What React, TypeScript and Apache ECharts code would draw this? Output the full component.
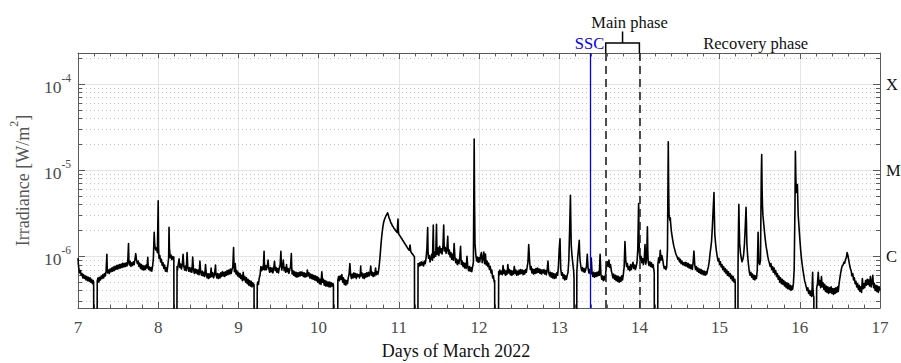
import React, { useEffect, useRef } from 'react';
import * as echarts from 'echarts';

const FONT = '"Liberation Serif", "Times New Roman", serif';

// axis ranges
const xMin = 7;
const xMax = 17;
const yMin = 2.5e-7;
const yMax = 2.3e-4;

// flare class reference levels (right-hand labels)
const classLevels = [1e-4, 1e-5, 1e-6];
const classLabels = ['X', 'M', 'C'];
const mClassThreshold = 1e-5;

// minor log grid levels
const minorLevels = [
  3e-7, 4e-7, 5e-7, 6e-7, 7e-7, 8e-7, 9e-7,
  2e-6, 3e-6, 4e-6, 5e-6, 6e-6, 7e-6, 8e-6, 9e-6,
  2e-5, 3e-5, 4e-5, 5e-5, 6e-5, 7e-5, 8e-5, 9e-5,
  2e-4,
];

// storm phases (days of March 2022)
const sscDay = 13.39;
const mainPhaseStart = 13.58;
const mainPhaseEnd = 14.0;
const recoveryLabelDay = 15.45;

// GOES X-ray irradiance, values in units of 1e-7 W/m^2 ([day, value])
const fluxUnit = 1e-7;
const day07 = [
  [7.0, 9.5], [7.005, 8.0], [7.01, 7.2], [7.02, 6.4], [7.03, 6.8], [7.04, 6.0], [7.05, 6.3], [7.06, 5.6], [7.07, 6.1], [7.08, 5.5],
  [7.09, 5.9], [7.1, 5.3], [7.11, 5.8], [7.12, 5.2], [7.13, 5.7], [7.14, 5.1], [7.15, 5.6], [7.16, 5.0], [7.17, 5.4], [7.18, 4.8],
  [7.19, 5.2], [7.195, 4.9], [7.2, 0.05], [7.235, 0.05], [7.24, 5.2], [7.25, 5.6], [7.26, 5.0], [7.27, 5.7], [7.28, 5.3], [7.29, 5.9],
  [7.3, 5.5], [7.31, 6.1], [7.32, 5.6], [7.33, 6.3], [7.34, 5.9], [7.35, 6.6], [7.36, 10.5], [7.365, 7.0], [7.37, 6.4], [7.38, 6.9],
  [7.39, 6.3], [7.4, 7.1], [7.41, 6.6], [7.42, 7.3], [7.43, 6.7], [7.44, 7.5], [7.45, 6.8], [7.46, 7.6], [7.47, 7.0], [7.48, 7.8],
  [7.49, 7.1], [7.5, 7.9], [7.51, 7.2], [7.52, 8.0], [7.53, 7.3], [7.54, 8.1], [7.55, 7.4], [7.56, 8.3], [7.57, 7.5], [7.58, 8.2],
  [7.59, 7.6], [7.6, 8.4], [7.61, 7.7], [7.62, 8.5], [7.63, 14.0], [7.635, 8.8], [7.64, 7.9], [7.65, 8.7], [7.66, 7.6], [7.67, 8.4],
  [7.68, 7.8], [7.69, 8.6], [7.7, 8.0], [7.71, 9.2], [7.72, 10.7], [7.73, 9.0], [7.74, 8.2], [7.75, 8.8], [7.76, 7.6], [7.77, 8.3],
  [7.78, 7.2], [7.79, 8.0], [7.8, 7.0], [7.81, 7.8], [7.82, 6.9], [7.83, 7.7], [7.84, 7.0], [7.85, 7.9], [7.86, 7.3], [7.87, 9.7],
  [7.875, 7.8], [7.88, 7.0], [7.89, 7.5], [7.9, 6.8], [7.91, 7.4], [7.92, 6.7], [7.93, 7.6], [7.94, 9.5], [7.95, 19.0], [7.955, 14.5],
  [7.96, 12.8], [7.97, 11.8], [7.98, 12.5], [7.99, 11.0], [8.0, 44.0],
];
const day08 = [
  [8.005, 12.0], [8.01, 9.5], [8.02, 10.2], [8.03, 8.6], [8.04, 9.2], [8.05, 7.8], [8.06, 8.4], [8.07, 7.2], [8.08, 7.9], [8.09, 6.7],
  [8.1, 7.4], [8.11, 6.6], [8.12, 7.8], [8.13, 9.5], [8.135, 21.7], [8.14, 12.5], [8.15, 9.6], [8.16, 10.3], [8.17, 9.1], [8.18, 9.9],
  [8.19, 9.3], [8.195, 9.8], [8.2, 0.05], [8.23, 0.05], [8.235, 7.6], [8.24, 7.0], [8.25, 8.0], [8.26, 9.3], [8.27, 7.4], [8.28, 8.1],
  [8.29, 7.1], [8.3, 7.9], [8.31, 10.5], [8.32, 7.6], [8.33, 6.9], [8.34, 7.7], [8.35, 6.8], [8.36, 11.0], [8.37, 7.3], [8.38, 6.7],
  [8.39, 7.4], [8.4, 6.6], [8.41, 7.3], [8.42, 6.5], [8.43, 9.8], [8.44, 7.0], [8.45, 6.3], [8.46, 7.1], [8.47, 6.4], [8.48, 7.0],
  [8.49, 6.2], [8.5, 6.9], [8.51, 6.1], [8.52, 8.8], [8.53, 6.5], [8.54, 6.0], [8.55, 6.7], [8.56, 5.9], [8.57, 6.5], [8.58, 5.8],
  [8.59, 8.0], [8.6, 6.1], [8.61, 5.6], [8.62, 6.3], [8.63, 5.5], [8.64, 6.2], [8.65, 5.7], [8.66, 7.3], [8.67, 5.8], [8.68, 6.4],
  [8.69, 5.6], [8.7, 6.0], [8.715, 7.9], [8.72, 6.1], [8.73, 5.6], [8.74, 6.3], [8.75, 5.5], [8.76, 6.2], [8.77, 5.6], [8.78, 6.4],
  [8.79, 5.8], [8.8, 6.6], [8.81, 5.9], [8.82, 6.5], [8.83, 5.8], [8.84, 6.6], [8.85, 6.0], [8.86, 6.8], [8.87, 6.1], [8.88, 6.9],
  [8.89, 6.2], [8.9, 7.1], [8.91, 6.3], [8.92, 7.0], [8.93, 7.5], [8.94, 12.6], [8.945, 8.0], [8.95, 6.6], [8.96, 8.2], [8.97, 6.2],
  [8.98, 6.8], [8.99, 5.9], [9.0, 6.5],
];
const day09 = [
  [9.01, 5.7], [9.02, 6.3], [9.03, 5.5], [9.04, 6.0], [9.05, 5.2], [9.06, 6.5], [9.07, 5.3], [9.08, 5.8], [9.09, 5.0], [9.1, 5.6],
  [9.11, 4.8], [9.12, 5.4], [9.13, 4.6], [9.14, 5.2], [9.15, 4.5], [9.16, 5.1], [9.17, 4.4], [9.18, 4.9], [9.19, 4.5], [9.195, 4.7],
  [9.2, 0.05], [9.23, 0.05], [9.235, 4.6], [9.24, 5.0], [9.25, 4.7], [9.26, 5.6], [9.27, 6.0], [9.28, 7.6], [9.29, 6.8], [9.3, 7.5],
  [9.31, 7.0], [9.32, 11.4], [9.325, 8.0], [9.33, 6.9], [9.34, 7.8], [9.35, 7.0], [9.36, 7.6], [9.37, 9.0], [9.38, 7.1], [9.39, 6.5],
  [9.4, 7.4], [9.41, 6.6], [9.42, 7.3], [9.43, 6.4], [9.44, 7.2], [9.45, 8.7], [9.46, 6.8], [9.47, 7.4], [9.48, 6.5], [9.49, 7.2],
  [9.5, 6.4], [9.51, 7.3], [9.52, 7.8], [9.53, 11.4], [9.535, 8.2], [9.54, 6.9], [9.55, 7.6], [9.56, 9.0], [9.57, 6.8], [9.58, 7.4],
  [9.59, 6.5], [9.6, 8.0], [9.61, 6.6], [9.62, 7.2], [9.63, 6.3], [9.64, 7.0], [9.65, 7.5], [9.66, 10.7], [9.665, 7.4], [9.67, 6.2],
  [9.68, 6.8], [9.69, 6.0], [9.7, 6.6], [9.71, 5.8], [9.72, 6.5], [9.73, 5.7], [9.74, 6.4], [9.75, 5.8], [9.76, 6.5], [9.77, 5.9],
  [9.78, 6.6], [9.79, 6.0], [9.8, 6.5], [9.81, 5.8], [9.82, 6.4], [9.83, 5.7], [9.84, 6.3], [9.85, 5.8], [9.86, 6.9], [9.87, 5.9],
  [9.88, 6.4], [9.89, 5.6], [9.9, 6.2], [9.91, 5.5], [9.92, 6.1], [9.93, 5.4], [9.94, 6.0], [9.95, 5.3], [9.96, 5.9], [9.97, 5.2],
  [9.98, 5.8], [9.99, 5.0], [10.0, 5.6],
];
const day10 = [
  [10.01, 4.8], [10.02, 5.4], [10.03, 4.7], [10.04, 6.6], [10.05, 5.0], [10.06, 5.4], [10.07, 4.6], [10.08, 5.2], [10.09, 4.5], [10.1, 5.1],
  [10.11, 4.5], [10.12, 5.0], [10.13, 4.4], [10.14, 5.0], [10.15, 4.4], [10.16, 4.9], [10.17, 4.5], [10.18, 4.8], [10.185, 4.6], [10.19, 0.05],
  [10.235, 0.05], [10.24, 5.3], [10.25, 5.8], [10.26, 5.2], [10.27, 5.9], [10.28, 5.4], [10.29, 6.1], [10.3, 5.0], [10.31, 5.6], [10.32, 4.7],
  [10.33, 5.3], [10.34, 4.6], [10.35, 5.2], [10.36, 4.8], [10.37, 5.6], [10.38, 6.2], [10.39, 8.2], [10.4, 6.0], [10.41, 5.5], [10.42, 6.2],
  [10.43, 5.6], [10.44, 6.4], [10.45, 5.7], [10.46, 6.3], [10.47, 5.5], [10.48, 6.2], [10.49, 5.8], [10.5, 6.1], [10.51, 5.6], [10.52, 6.3],
  [10.525, 7.7], [10.53, 5.9], [10.54, 6.4], [10.55, 5.6], [10.56, 6.2], [10.57, 5.5], [10.58, 6.3], [10.59, 5.7], [10.6, 6.4], [10.61, 5.8],
  [10.62, 6.5], [10.63, 5.9], [10.64, 6.3], [10.65, 7.7], [10.66, 6.0], [10.67, 6.5], [10.68, 5.8], [10.69, 6.4], [10.7, 5.9], [10.71, 7.3],
  [10.72, 6.1], [10.73, 6.6], [10.74, 6.2], [10.75, 7.0], [10.76, 8.5], [10.77, 11.0], [10.78, 14.5], [10.79, 18.0], [10.8, 21.5], [10.81, 24.5],
  [10.82, 26.5], [10.83, 28.0], [10.84, 29.5], [10.85, 30.5], [10.86, 32.0], [10.87, 30.0], [10.88, 27.5], [10.89, 26.5], [10.9, 24.5], [10.91, 23.8],
  [10.92, 22.5], [10.93, 22.0], [10.94, 21.0], [10.95, 20.6], [10.96, 19.8], [10.97, 19.4], [10.98, 18.8], [10.99, 27.0], [10.995, 19.0],
];
const day11 = [
  [11.0, 18.0], [11.01, 17.4], [11.02, 17.0], [11.03, 16.3], [11.04, 15.9], [11.05, 15.2], [11.06, 14.8], [11.07, 14.2], [11.08, 13.8], [11.09, 13.3],
  [11.1, 12.9], [11.11, 12.4], [11.12, 12.0], [11.13, 11.7], [11.14, 13.5], [11.15, 11.3], [11.16, 10.9], [11.17, 10.6], [11.18, 10.3], [11.19, 10.0],
  [11.195, 9.8], [11.2, 0.05], [11.235, 0.05], [11.24, 8.2], [11.25, 7.6], [11.26, 8.4], [11.27, 7.8], [11.28, 8.6], [11.29, 7.9], [11.3, 8.5],
  [11.31, 7.7], [11.32, 8.8], [11.33, 8.2], [11.34, 9.5], [11.35, 12.0], [11.36, 21.5], [11.365, 11.0], [11.37, 9.5], [11.38, 10.2], [11.39, 8.6],
  [11.4, 9.4], [11.41, 10.5], [11.42, 9.0], [11.43, 23.0], [11.435, 11.5], [11.44, 9.6], [11.45, 11.2], [11.46, 10.0], [11.47, 23.5], [11.475, 12.0],
  [11.48, 10.5], [11.49, 12.5], [11.5, 10.2], [11.51, 13.0], [11.52, 11.0], [11.53, 12.2], [11.54, 10.6], [11.55, 12.8], [11.56, 23.0], [11.565, 13.5],
  [11.57, 11.5], [11.58, 12.6], [11.59, 10.8], [11.6, 12.0], [11.61, 17.0], [11.615, 12.5], [11.62, 10.6], [11.63, 11.8], [11.64, 9.8], [11.65, 11.0],
  [11.66, 9.2], [11.67, 10.5], [11.68, 9.0], [11.69, 14.0], [11.7, 9.6], [11.71, 8.4], [11.72, 9.3], [11.73, 8.0], [11.74, 9.0], [11.75, 8.2],
  [11.76, 9.5], [11.77, 13.0], [11.775, 9.8], [11.78, 8.0], [11.79, 8.8], [11.8, 7.6], [11.81, 8.4], [11.82, 7.3], [11.83, 8.2], [11.84, 7.2],
  [11.85, 10.0], [11.86, 7.5], [11.87, 6.8], [11.88, 7.6], [11.89, 6.7], [11.9, 7.4], [11.91, 6.6], [11.92, 7.5], [11.93, 8.5], [11.94, 230.0],
  [11.945, 40.0], [11.95, 14.0], [11.96, 10.5], [11.97, 8.8], [11.98, 9.8], [11.99, 8.5],
];
const day12 = [
  [12.0, 9.6], [12.01, 8.6], [12.02, 10.2], [12.03, 11.0], [12.04, 8.4], [12.05, 9.4], [12.06, 11.2], [12.07, 8.2], [12.08, 10.6], [12.09, 7.9],
  [12.1, 8.8], [12.11, 7.6], [12.12, 8.3], [12.13, 7.0], [12.14, 7.6], [12.15, 6.4], [12.16, 6.9], [12.17, 5.6], [12.18, 5.9], [12.19, 5.0],
  [12.195, 5.2], [12.2, 0.05], [12.24, 0.05], [12.245, 6.6], [12.25, 6.0], [12.26, 6.9], [12.27, 6.2], [12.28, 6.7], [12.29, 6.1], [12.3, 7.8],
  [12.31, 6.3], [12.32, 6.9], [12.33, 6.0], [12.34, 6.7], [12.35, 6.2], [12.36, 8.0], [12.37, 6.4], [12.38, 7.0], [12.39, 6.1], [12.4, 6.8],
  [12.41, 6.0], [12.42, 6.7], [12.43, 6.2], [12.44, 7.6], [12.45, 6.3], [12.46, 6.9], [12.47, 6.0], [12.48, 6.7], [12.49, 6.1], [12.5, 6.9],
  [12.51, 6.2], [12.52, 7.0], [12.53, 6.3], [12.54, 6.9], [12.55, 6.1], [12.56, 6.8], [12.57, 6.2], [12.58, 7.0], [12.59, 6.5], [12.6, 7.4],
  [12.61, 8.5], [12.62, 13.7], [12.63, 9.0], [12.64, 7.0], [12.65, 7.6], [12.66, 6.4], [12.67, 7.1], [12.68, 6.2], [12.69, 7.0], [12.7, 6.3],
  [12.71, 7.2], [12.72, 6.4], [12.73, 7.3], [12.74, 6.5], [12.75, 7.1], [12.76, 6.3], [12.77, 7.0], [12.78, 6.2], [12.79, 6.9], [12.8, 6.4],
  [12.81, 7.0], [12.82, 6.2], [12.83, 6.8], [12.84, 6.1], [12.85, 6.9], [12.86, 8.8], [12.87, 6.4], [12.88, 5.9], [12.89, 6.5], [12.9, 5.7],
  [12.91, 6.4], [12.92, 5.6], [12.93, 6.3], [12.94, 5.5], [12.95, 6.2], [12.96, 5.6], [12.97, 6.4], [12.98, 6.0], [12.99, 7.5], [13.0, 12.0],
  [13.01, 15.9], [13.015, 10.0],
];
const day13 = [
  [13.02, 7.0], [13.03, 6.0], [13.04, 6.4], [13.05, 5.5], [13.06, 6.1], [13.07, 5.3], [13.08, 5.9], [13.09, 5.4], [13.1, 6.0], [13.11, 6.5],
  [13.12, 9.0], [13.13, 20.0], [13.14, 51.0], [13.145, 25.0], [13.15, 13.5], [13.16, 10.0], [13.17, 8.2], [13.18, 6.8], [13.185, 5.5], [13.19, 0.05],
  [13.215, 0.05], [13.22, 6.5], [13.23, 9.5], [13.24, 12.0], [13.25, 15.3], [13.255, 11.0], [13.26, 9.0], [13.27, 7.6], [13.28, 6.8], [13.29, 7.4],
  [13.3, 6.6], [13.31, 7.2], [13.32, 6.5], [13.33, 7.0], [13.34, 7.6], [13.35, 10.5], [13.36, 7.2], [13.37, 6.4], [13.38, 7.0], [13.39, 6.2],
  [13.4, 9.5], [13.41, 6.3], [13.42, 5.8], [13.43, 6.5], [13.44, 5.7], [13.45, 6.4], [13.46, 5.8], [13.47, 6.5], [13.48, 5.9], [13.49, 6.6],
  [13.5, 6.0], [13.51, 10.5], [13.52, 6.2], [13.53, 5.4], [13.54, 5.9], [13.55, 5.2], [13.56, 5.8], [13.57, 5.3], [13.58, 6.4], [13.59, 7.8],
  [13.6, 8.6], [13.61, 7.6], [13.62, 9.0], [13.63, 7.4], [13.64, 8.0], [13.65, 6.8], [13.66, 6.2], [13.67, 5.6], [13.68, 6.2], [13.69, 5.4],
  [13.7, 6.0], [13.71, 5.2], [13.72, 5.9], [13.73, 5.1], [13.74, 5.8], [13.75, 5.0], [13.76, 5.7], [13.77, 5.1], [13.78, 5.9], [13.79, 5.3],
  [13.8, 6.2], [13.81, 7.5], [13.82, 14.8], [13.83, 9.0], [13.84, 7.6], [13.85, 8.2], [13.86, 7.0], [13.87, 7.6], [13.88, 6.8], [13.89, 8.0],
  [13.9, 7.0], [13.91, 7.8], [13.92, 8.5], [13.93, 7.2], [13.94, 7.9], [13.95, 7.0], [13.96, 7.6], [13.97, 8.5], [13.98, 12.0], [13.99, 41.0],
  [13.995, 18.0],
];
const day14 = [
  [14.0, 11.0], [14.01, 9.0], [14.02, 10.0], [14.03, 8.4], [14.04, 9.4], [14.05, 8.0], [14.06, 9.0], [14.07, 13.7], [14.075, 9.2], [14.08, 8.1],
  [14.09, 9.5], [14.1, 22.0], [14.105, 11.0], [14.11, 8.6], [14.12, 7.8], [14.13, 8.6], [14.14, 7.6], [14.15, 8.4], [14.16, 7.4], [14.17, 8.0],
  [14.18, 7.0], [14.185, 6.5], [14.19, 0.05], [14.225, 0.05], [14.23, 8.0], [14.24, 9.6], [14.25, 8.4], [14.26, 11.7], [14.27, 9.0], [14.28, 10.2],
  [14.29, 9.2], [14.3, 8.0], [14.31, 7.2], [14.32, 7.6], [14.33, 7.0], [14.34, 7.4], [14.35, 12.0], [14.36, 214.0], [14.365, 60.0], [14.37, 30.0],
  [14.38, 26.0], [14.385, 28.0], [14.39, 24.0], [14.4, 19.0], [14.41, 16.5], [14.42, 14.5], [14.43, 13.0], [14.44, 12.0], [14.45, 11.0], [14.46, 10.3],
  [14.47, 9.9], [14.48, 9.2], [14.49, 9.6], [14.5, 8.6], [14.51, 9.2], [14.52, 8.2], [14.53, 8.8], [14.54, 8.0], [14.55, 8.4], [14.56, 7.8],
  [14.57, 8.5], [14.58, 7.7], [14.59, 8.4], [14.6, 7.5], [14.61, 8.2], [14.62, 7.3], [14.63, 8.0], [14.64, 7.2], [14.65, 7.9], [14.66, 7.0],
  [14.67, 8.5], [14.68, 11.5], [14.69, 8.0], [14.7, 7.0], [14.71, 7.6], [14.72, 6.7], [14.73, 7.3], [14.74, 6.5], [14.75, 7.1], [14.76, 6.3],
  [14.77, 7.0], [14.78, 6.2], [14.79, 6.8], [14.8, 6.1], [14.81, 6.7], [14.82, 6.0], [14.83, 6.6], [14.84, 6.2], [14.85, 6.9], [14.86, 7.5],
  [14.87, 8.6], [14.88, 10.5], [14.89, 12.5], [14.9, 15.0], [14.91, 22.0], [14.92, 35.0], [14.93, 55.0], [14.935, 30.0], [14.94, 18.0], [14.95, 14.0],
  [14.96, 11.5], [14.97, 10.0], [14.98, 8.8], [14.99, 9.4], [15.0, 8.0],
];
const day15 = [
  [15.01, 8.6], [15.02, 7.5], [15.03, 8.0], [15.04, 7.0], [15.05, 7.6], [15.06, 6.6], [15.07, 7.2], [15.08, 6.3], [15.09, 6.9], [15.1, 6.0],
  [15.11, 6.6], [15.12, 5.8], [15.13, 6.3], [15.14, 5.5], [15.15, 6.0], [15.16, 5.2], [15.17, 5.8], [15.18, 5.0], [15.19, 5.4], [15.195, 4.9],
  [15.2, 0.05], [15.225, 0.05], [15.23, 8.0], [15.235, 20.0], [15.24, 40.0], [15.245, 22.0], [15.25, 14.0], [15.26, 11.0], [15.27, 9.5], [15.28, 8.6],
  [15.29, 9.2], [15.3, 10.5], [15.31, 14.0], [15.32, 22.0], [15.33, 37.0], [15.335, 24.0], [15.34, 14.0], [15.35, 10.0], [15.36, 8.0], [15.37, 6.6],
  [15.38, 6.0], [15.39, 6.5], [15.4, 5.7], [15.41, 6.2], [15.42, 5.4], [15.43, 6.0], [15.44, 5.3], [15.45, 5.9], [15.46, 5.5], [15.47, 7.0],
  [15.48, 19.0], [15.485, 12.0], [15.49, 8.4], [15.5, 8.0], [15.51, 9.0], [15.515, 30.0], [15.52, 90.0], [15.525, 152.0], [15.53, 60.0], [15.535, 38.0],
  [15.54, 30.0], [15.55, 24.0], [15.56, 19.0], [15.57, 15.5], [15.58, 13.0], [15.59, 11.5], [15.6, 10.0], [15.61, 9.0], [15.62, 8.4], [15.63, 7.6],
  [15.64, 8.2], [15.65, 7.0], [15.66, 7.6], [15.67, 6.5], [15.68, 7.3], [15.69, 6.2], [15.7, 6.8], [15.71, 5.8], [15.72, 6.3], [15.73, 5.4],
  [15.74, 5.9], [15.75, 5.0], [15.76, 5.6], [15.77, 4.8], [15.78, 5.4], [15.79, 4.7], [15.8, 5.2], [15.81, 4.5], [15.82, 5.0], [15.83, 4.3],
  [15.84, 4.9], [15.85, 4.2], [15.86, 4.8], [15.87, 4.1], [15.88, 4.6], [15.89, 4.0], [15.9, 4.5], [15.91, 4.1], [15.92, 4.8], [15.93, 7.0],
  [15.94, 40.0], [15.945, 166.0], [15.95, 90.0], [15.955, 55.0], [15.96, 65.0], [15.965, 58.0], [15.97, 68.0], [15.975, 45.0], [15.98, 30.0], [15.99, 22.0],
  [16.0, 16.0],
];
const day16 = [
  [16.01, 12.0], [16.02, 9.5], [16.03, 8.0], [16.04, 6.8], [16.05, 6.0], [16.06, 5.2], [16.07, 4.8], [16.08, 4.4], [16.09, 4.0], [16.1, 4.3],
  [16.11, 3.7], [16.12, 4.0], [16.13, 3.5], [16.14, 3.9], [16.15, 3.4], [16.16, 6.5], [16.165, 4.0], [16.17, 3.5], [16.175, 3.4], [16.18, 0.05],
  [16.205, 0.05], [16.21, 4.2], [16.22, 4.8], [16.23, 6.5], [16.24, 4.6], [16.25, 5.2], [16.26, 4.3], [16.27, 5.8], [16.28, 4.4], [16.29, 4.9],
  [16.3, 4.1], [16.31, 4.7], [16.32, 3.9], [16.33, 4.5], [16.34, 3.8], [16.35, 4.4], [16.36, 3.7], [16.37, 4.3], [16.38, 3.8], [16.39, 4.4],
  [16.4, 3.7], [16.41, 4.2], [16.42, 3.6], [16.43, 4.2], [16.44, 3.7], [16.45, 4.3], [16.46, 3.8], [16.47, 4.4], [16.48, 3.9], [16.49, 4.8],
  [16.5, 5.6], [16.51, 6.4], [16.52, 7.2], [16.53, 7.8], [16.54, 7.9], [16.55, 8.5], [16.56, 8.3], [16.57, 9.2], [16.58, 9.6], [16.59, 11.0],
  [16.6, 10.2], [16.61, 9.0], [16.62, 8.0], [16.63, 7.2], [16.64, 6.8], [16.65, 5.9], [16.66, 6.3], [16.67, 5.3], [16.68, 5.6], [16.69, 4.8],
  [16.7, 5.1], [16.71, 4.4], [16.72, 4.8], [16.73, 4.1], [16.74, 4.6], [16.75, 3.9], [16.76, 4.4], [16.77, 3.8], [16.78, 5.5], [16.79, 4.2],
  [16.8, 4.8], [16.81, 4.3], [16.82, 5.2], [16.83, 4.6], [16.84, 5.4], [16.85, 4.7], [16.86, 5.3], [16.87, 4.5], [16.88, 5.8], [16.89, 4.4],
  [16.9, 5.0], [16.91, 6.0], [16.92, 4.3], [16.93, 4.8], [16.94, 4.0], [16.95, 4.6], [16.96, 3.9], [16.97, 4.5], [16.98, 3.8], [16.99, 4.4],
  [17.0, 4.0],
];

const AXIS_COLOR = '#5a5a5a';
const LABEL_COLOR = '#4a4a4a';

export default function App() {
  const ref = useRef<HTMLDivElement>(null);

  useEffect(() => {
    document.body.style.margin = '0';
    document.body.style.overflow = 'hidden';
    if (!ref.current) return;
    const chart = echarts.init(ref.current, undefined, { renderer: 'svg', width: 901, height: 363 });

    const fluxData = [...day07, ...day08, ...day09, ...day10, ...day11, ...day12, ...day13, ...day14, ...day15, ...day16].map(
      ([t, v]) => [t, v * fluxUnit]
    );

    const xCommon = {
      type: 'value' as const,
      min: xMin,
      max: xMax,
      interval: 1,
      axisLine: { show: true, onZero: false, lineStyle: { color: AXIS_COLOR, width: 1 } },
      axisTick: { show: true, inside: true, length: 6, lineStyle: { color: AXIS_COLOR } },
      minorTick: { show: true, splitNumber: 5, length: 3.5, lineStyle: { color: AXIS_COLOR } },
    };

    const expLabel = (v: number) => {
      const e = Math.log10(v);
      if (Math.abs(e - Math.round(e)) > 1e-6) return '';
      return `{b|10}{s|${Math.round(e)}}`;
    };
    const classLabel = (v: number) => {
      for (let i = 0; i < classLevels.length; i++) {
        if (Math.abs(Math.log10(v) - Math.log10(classLevels[i])) < 1e-6) return classLabels[i];
      }
      return '';
    };

    chart.setOption({
      animation: false,
      backgroundColor: '#ffffff',
      grid: { left: 78, right: 21, top: 53, bottom: 55, containLabel: false, outerBoundsMode: 'none' },
      xAxis: [
        {
          ...xCommon,
          position: 'bottom',
          name: 'Days of March 2022',
          nameLocation: 'middle',
          nameGap: 34,
          nameTextStyle: { fontFamily: FONT, fontSize: 18, color: '#111', padding: [0, 46, 0, 0] },
          axisLabel: { fontFamily: FONT, fontSize: 17, color: LABEL_COLOR, margin: 11 },
          splitLine: { show: true, lineStyle: { color: '#e4e4e4', width: 1 } },
        },
        {
          ...xCommon,
          position: 'top',
          axisLabel: { show: false },
          splitLine: { show: false },
        },
      ],
      yAxis: [
        {
          type: 'log',
          logBase: 10,
          min: yMin,
          max: yMax,
          position: 'left',
          name: '{a|Irradiance [W/m}{s|2}{a|]}',
          nameLocation: 'middle',
          nameGap: 46,
          nameRotate: 90,
          nameTextStyle: {
            rich: {
              a: { fontFamily: FONT, fontSize: 18, color: '#555', lineHeight: 24, verticalAlign: 'bottom' },
              s: { fontFamily: FONT, fontSize: 12, color: '#555', lineHeight: 12, verticalAlign: 'top' },
            },
          },
          axisLine: { show: true, onZero: false, lineStyle: { color: AXIS_COLOR, width: 1 } },
          axisTick: { show: true, inside: true, length: 7, lineStyle: { color: AXIS_COLOR } },
          minorTick: { show: false },
          axisLabel: {
            formatter: expLabel,
            showMinLabel: false,
            showMaxLabel: false,
            margin: 7,
            rich: {
              b: { fontFamily: FONT, fontSize: 17.5, color: LABEL_COLOR, lineHeight: 24, verticalAlign: 'bottom' },
              s: { fontFamily: FONT, fontSize: 11.5, color: LABEL_COLOR, lineHeight: 12, verticalAlign: 'top' },
            },
          },
          splitLine: { show: true, lineStyle: { color: '#e4e4e4', width: 1 } },
        },
        {
          type: 'log',
          logBase: 10,
          min: yMin,
          max: yMax,
          position: 'right',
          axisLine: { show: true, onZero: false, lineStyle: { color: AXIS_COLOR, width: 1 } },
          axisTick: { show: true, inside: true, length: 7, lineStyle: { color: AXIS_COLOR } },
          minorTick: { show: false },
          axisLabel: {
            formatter: classLabel,
            showMinLabel: false,
            showMaxLabel: false,
            margin: 6,
            fontFamily: FONT,
            fontSize: 16.5,
            color: '#111',
          },
          splitLine: { show: false },
        },
      ],
      series: [
        {
          type: 'custom',
          xAxisIndex: 0,
          yAxisIndex: 0,
          silent: true,
          z: 1,
          data: minorLevels.map((v) => [xMin, v]),
          renderItem: (params: any, api: any) => {
            const v = api.value(1);
            const a = api.coord([xMin, v]);
            const b = api.coord([xMax, v]);
            const y = Math.round(a[1]) + 0.5;
            return {
              type: 'group',
              children: [
                { type: 'line', shape: { x1: a[0], y1: y, x2: b[0], y2: y }, style: { stroke: '#c4c4c4', lineWidth: 1, lineDash: [1, 3] } },
                { type: 'line', shape: { x1: a[0], y1: y, x2: a[0] + 4, y2: y }, style: { stroke: AXIS_COLOR, lineWidth: 1 } },
                { type: 'line', shape: { x1: b[0] - 4, y1: y, x2: b[0], y2: y }, style: { stroke: AXIS_COLOR, lineWidth: 1 } },
              ],
            };
          },
        },
        {
          type: 'line',
          xAxisIndex: 0,
          yAxisIndex: 0,
          data: fluxData,
          showSymbol: false,
          symbol: 'none',
          clip: true,
          z: 3,
          lineStyle: { color: '#000', width: 1.6, join: 'round' },
          markLine: {
            silent: true,
            symbol: ['none', 'none'],
            label: { show: false },
            data: [
              { yAxis: mClassThreshold, lineStyle: { color: '#ff3b3b', type: [6, 4], width: 1.3 } },
              { xAxis: sscDay, lineStyle: { color: '#0000ff', type: 'solid', width: 1.3 } },
              { xAxis: mainPhaseStart, lineStyle: { color: '#222', type: [8, 5], width: 1.6 } },
              { xAxis: mainPhaseEnd, lineStyle: { color: '#222', type: [8, 5], width: 1.6 } },
            ],
          },
        },
      ],
    });

    // annotations above the plot, positioned via the axes' scales
    const px = (d: number) => chart.convertToPixel({ xAxisIndex: 0 }, d) as number;
    const top = chart.convertToPixel({ yAxisIndex: 0 }, yMax) as number;
    const x0 = px(mainPhaseStart);
    const x1 = px(mainPhaseEnd);
    const xs = px(sscDay);
    const xr = px(recoveryLabelDay);
    const xm = (x0 + x1) / 2;
    const bracketY = top - 10;
    const notchY = top - 21.5;
    const txt = (text: string, x: number, y: number, color: string) => ({
      type: 'text',
      x,
      y,
      style: {
        text,
        fill: color,
        fontFamily: FONT,
        fontSize: 16.5,
        textAlign: 'center',
        textVerticalAlign: 'middle',
        align: 'center',
        verticalAlign: 'middle',
      },
    });
    chart.setOption({
      graphic: [
        {
          type: 'polyline',
          shape: { points: [[x0, top], [x0, bracketY], [x1, bracketY], [x1, top]] },
          style: { stroke: '#000', lineWidth: 1.5, fill: null },
        },
        { type: 'line', shape: { x1: xm, y1: bracketY, x2: xm, y2: notchY }, style: { stroke: '#000', lineWidth: 1.5 } },
        txt('Main phase', xm + 7, notchY - 9, '#111'),
        txt('SSC', xs - 1, bracketY, '#0000ff'),
        txt('Recovery phase', xr, bracketY, '#111'),
      ],
    });

    return () => chart.dispose();
  }, []);

  return <div ref={ref} style={{ position: 'fixed', left: 0, top: 0, width: 901, height: 363 }} />;
}
